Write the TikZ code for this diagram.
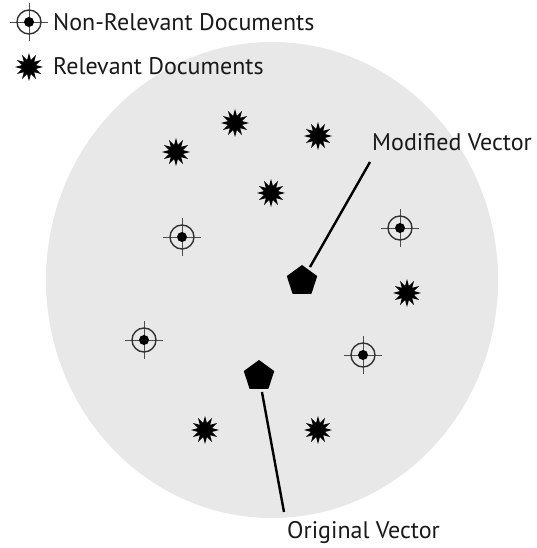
\documentclass[tikz,border=0pt]{standalone}
\usepackage{fontspec}
\setmainfont{PT Sans}
\usetikzlibrary{shapes.geometric}

\tikzset{
  relstar/.style={star, star points=12, star point ratio=1.9, fill=black,
    minimum size=28pt, inner sep=0pt},
  vecmark/.style={regular polygon, regular polygon sides=5, fill=black,
    minimum size=32pt, inner sep=0pt, outer sep=3pt},
  vecline/.style={line width=2.4pt},
  lbl/.style={anchor=base west, inner sep=0pt, text=black!90,
    font=\fontsize{24}{28}\selectfont}
}

\begin{document}
\begin{tikzpicture}[x=1pt,y=-1pt]
\useasboundingbox (0,0) rectangle (536,548);
% document space
\fill[black!9] (272,280) ellipse (226 and 238);
% legend
\node[lbl] (nonrellabel) at (53,31) {Non-Relevant Documents};
\node[lbl] (rellabel) at (53,75) {Relevant Documents};
\node[relstar] (relkey) at (29,67) {};
% non-relevant documents
\foreach \x/\y in {29/22,182/237,400/228,144/340,363/355}{
  \draw[line width=0.8pt,black!70] ({\x-19},\y)--({\x+19},\y) (\x,{\y-19})--(\x,{\y+19});
  \draw[line width=1.4pt,black!80] (\x,\y) circle (12);
  \fill (\x,\y) circle (5);
}
% relevant documents
\foreach \x/\y [count=\i] in {235/123,318/136,176/152,271/193,407/293,205/430,318/430}{
  \node[relstar] (rel\i) at (\x,\y) {};
}
% query vectors
\node[vecmark] (modvec) at (302,281) {};
\node[vecmark] (origvec) at (259,376) {};
\coordinate (modtip) at (370,162);
\coordinate (origtip) at (284,512);
\draw[vecline] (modvec) -- (modtip);
\draw[vecline] (origvec) -- (origtip);
\node[lbl] (modlabel) at (372,150) {Modified Vector};
\node[lbl] (origlabel) at (287,538) {Original Vector};
\end{tikzpicture}
\end{document}
